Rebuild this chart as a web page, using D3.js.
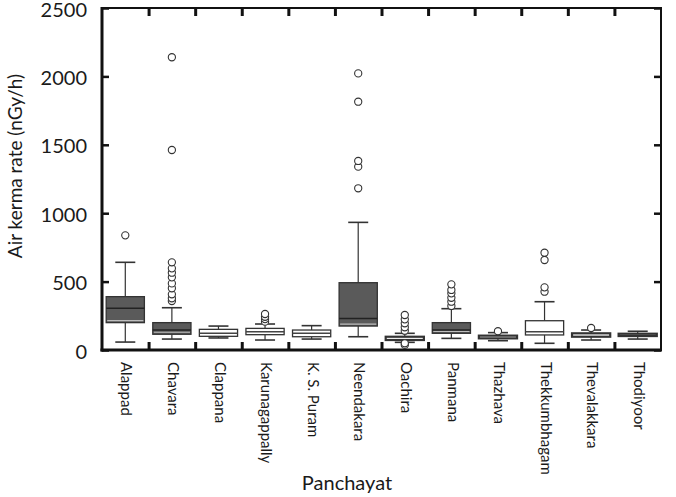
<!DOCTYPE html>
<html>
<head>
<meta charset="utf-8">
<script src="https://cdn.jsdelivr.net/npm/d3@7"></script>
<style>
  html, body { margin: 0; padding: 0; background: #fff; }
  svg { display: block; }
  text { font-family: Lato, "Open Sans", "Liberation Sans", sans-serif; fill: #1a1a1a; }
</style>
</head>
<body>
<svg id="chart" width="676" height="497"></svg>
<script>
const categories = ["Alappad","Chavara","Clappana","Karunagappally","K. S. Puram","Neendakara","Oachira","Panmana","Thazhava","Thekkumbhagam","Thevalakkara","Thodiyoor"];
const whiskerLow  = [58, 80, 88, 73, 80, 97, 56, 85, 68, 49, 73, 80];
const q1          = [200, 115, 100, 112, 97, 175, 73, 122, 85, 110, 97, 102];
const median      = [305, 146, 122, 134, 122, 231, 82, 146, 95, 134, 110, 110];
const q3          = [390, 200, 151, 158, 146, 492, 97, 200, 105, 214, 122, 119];
const whiskerHigh = [641, 309, 175, 190, 178, 933, 122, 302, 127, 353, 146, 137];
const outliers = [
  [838],
  [358, 378, 407, 451, 487, 531, 565, 597, 641, 1462, 2140],
  [],
  [207, 226, 243, 263],
  [],
  [1182, 1340, 1382, 1815, 2022],
  [37, 49, 141, 166, 195, 224, 256],
  [322, 353, 382, 414, 439, 480],
  [137],
  [426, 458, 658, 711],
  [161],
  []
];
const darkBoxes = ["Alappad","Chavara","Neendakara","Panmana"];
const yTicks = [0, 500, 1000, 1500, 2000, 2500];

const svg = d3.select("#chart");
const L = 102, R = 661, T = 8, B = 350;

const x = d3.scaleBand().domain(categories).range([L, R]).paddingInner(0.18).paddingOuter(0.09);
const y = d3.scaleLinear().domain([0, 2500]).range([B, T]);
const idx = d3.scaleLinear().domain([0, categories.length]).range([L, R]);

// Left axis with labels
const gl = svg.append("g").attr("transform", `translate(${L},0)`)
  .call(d3.axisLeft(y).tickValues(yTicks).tickFormat(d3.format("d")).tickSizeInner(-7).tickSizeOuter(0).tickPadding(15));
gl.select(".domain").remove();
gl.selectAll(".tick line").attr("stroke", "#111").attr("stroke-width", 2.5);
gl.selectAll(".tick text").style("font-size", "20px").attr("fill", "#1a1a1a").style("font-family", "Lato").attr("dy", "0.4em");

// Right axis ticks
const gr = svg.append("g").attr("transform", `translate(${R},0)`)
  .call(d3.axisRight(y).tickValues(yTicks).tickSizeInner(-7).tickSizeOuter(0).tickFormat(""));
gr.select(".domain").remove();
gr.selectAll(".tick line").attr("stroke", "#111").attr("stroke-width", 2.5);

// Bottom / top ticks at category boundaries
const bTicks = d3.range(1, categories.length);
const gb = svg.append("g").attr("transform", `translate(0,${B})`)
  .call(d3.axisBottom(idx).tickValues(bTicks).tickSizeInner(-8).tickSizeOuter(0).tickFormat(""));
gb.select(".domain").remove();
gb.selectAll(".tick line").attr("stroke", "#111").attr("stroke-width", 3);
const gt = svg.append("g").attr("transform", `translate(0,${T})`)
  .call(d3.axisTop(idx).tickValues(bTicks).tickSizeInner(-8).tickSizeOuter(0).tickFormat(""));
gt.select(".domain").remove();
gt.selectAll(".tick line").attr("stroke", "#111").attr("stroke-width", 3);

// Frame
svg.append("line").attr("x1", L).attr("x2", L).attr("y1", T - 1).attr("y2", B + 1.5).attr("stroke", "#111").attr("stroke-width", 3);
svg.append("line").attr("x1", L - 1.5).attr("x2", R + 1).attr("y1", B).attr("y2", B).attr("stroke", "#111").attr("stroke-width", 3);
svg.append("line").attr("x1", L).attr("x2", R).attr("y1", T).attr("y2", T).attr("stroke", "#111").attr("stroke-width", 2);
svg.append("line").attr("x1", R).attr("x2", R).attr("y1", T - 1).attr("y2", B).attr("stroke", "#111").attr("stroke-width", 2);

// Boxes
const bw = x.bandwidth();
const capW = 20;
const stroke = "#333";
categories.forEach((c, i) => {
  const g = svg.append("g");
  const cx = x(c) + bw / 2;
  g.append("line").attr("x1", cx).attr("x2", cx).attr("y1", y(q3[i])).attr("y2", y(whiskerHigh[i])).attr("stroke", stroke).attr("stroke-width", 1.2);
  g.append("line").attr("x1", cx).attr("x2", cx).attr("y1", y(q1[i])).attr("y2", y(whiskerLow[i])).attr("stroke", stroke).attr("stroke-width", 1.2);
  g.append("line").attr("x1", cx - capW / 2).attr("x2", cx + capW / 2).attr("y1", y(whiskerHigh[i])).attr("y2", y(whiskerHigh[i])).attr("stroke", stroke).attr("stroke-width", 1.6);
  g.append("line").attr("x1", cx - capW / 2).attr("x2", cx + capW / 2).attr("y1", y(whiskerLow[i])).attr("y2", y(whiskerLow[i])).attr("stroke", stroke).attr("stroke-width", 1.6);
  const dark = darkBoxes.includes(c);
  const h = y(q1[i]) - y(q3[i]);
  g.append("rect").attr("x", x(c)).attr("y", y(q3[i])).attr("width", bw).attr("height", h)
    .attr("fill", dark ? "#5a5a5a" : "#fff").attr("stroke", stroke).attr("stroke-width", h < 4 ? 2.2 : 1.3);
  if (dark) {
    g.append("line").attr("x1", x(c) + 1).attr("x2", x(c) + bw - 1).attr("y1", y(q1[i]) - 2).attr("y2", y(q1[i]) - 2).attr("stroke", "#bdbdbd").attr("stroke-width", 1.2);
  }
  if (h >= 4) {
    g.append("line").attr("x1", x(c)).attr("x2", x(c) + bw).attr("y1", y(median[i])).attr("y2", y(median[i]))
      .attr("stroke", dark ? "#222" : "#444").attr("stroke-width", 1.5);
  }
  g.selectAll("circle").data(outliers[i]).join("circle")
    .attr("cx", cx).attr("cy", d => y(d)).attr("r", 3.6)
    .attr("fill", "#fff").attr("stroke", "#333").attr("stroke-width", 1.1);
});

// Category labels (rotated)
svg.append("g").selectAll("text").data(categories).join("text")
  .attr("transform", d => `translate(${x(d) + bw / 2},362) rotate(90)`)
  .attr("text-anchor", "start").attr("dominant-baseline", "middle")
  .style("font-size", "15px").text(d => d);

// Axis titles
svg.append("text").attr("transform", "translate(22,166) rotate(-90)")
  .attr("text-anchor", "middle").style("font-size", "19px").text("Air kerma rate (nGy/h)");
svg.append("text").attr("x", 347).attr("y", 490)
  .attr("text-anchor", "middle").style("font-size", "20px").text("Panchayat");
</script>
</body>
</html>
